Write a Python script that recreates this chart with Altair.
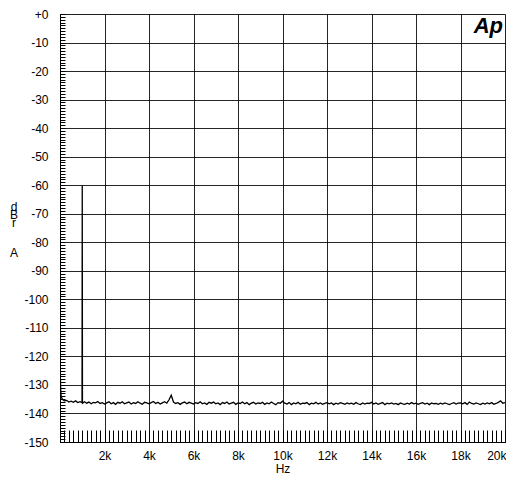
import altair as alt
import pandas as pd

# ---- data ----
freq_hz = (
    [20, 30, 50, 80, 120, 200, 300, 400, 500, 600, 700, 800, 900, 990, 1000, 1010]
    + [1100, 1200, 1300, 1400, 1500, 1600, 1700, 1800, 1900, 2000]
    + [2100, 2200, 2300, 2400, 2500, 2600, 2700, 2800, 2900, 3000]
    + [3100, 3200, 3300, 3400, 3500, 3600, 3700, 3800, 3900, 4000]
    + [4100, 4200, 4300, 4400, 4500, 4600, 4700, 4800, 4900, 5000]
    + [5100, 5200, 5300, 5400, 5500, 5600, 5700, 5800, 5900, 6000]
    + [6100, 6200, 6300, 6400, 6500, 6600, 6700, 6800, 6900, 7000]
    + [7100, 7200, 7300, 7400, 7500, 7600, 7700, 7800, 7900, 8000]
    + [8100, 8200, 8300, 8400, 8500, 8600, 8700, 8800, 8900, 9000]
    + [9100, 9200, 9300, 9400, 9500, 9600, 9700, 9800, 9900, 10000]
    + [10100, 10200, 10300, 10400, 10500, 10600, 10700, 10800, 10900, 11000]
    + [11100, 11200, 11300, 11400, 11500, 11600, 11700, 11800, 11900, 12000]
    + [12100, 12200, 12300, 12400, 12500, 12600, 12700, 12800, 12900, 13000]
    + [13100, 13200, 13300, 13400, 13500, 13600, 13700, 13800, 13900, 14000]
    + [14100, 14200, 14300, 14400, 14500, 14600, 14700, 14800, 14900, 15000]
    + [15100, 15200, 15300, 15400, 15500, 15600, 15700, 15800, 15900, 16000]
    + [16100, 16200, 16300, 16400, 16500, 16600, 16700, 16800, 16900, 17000]
    + [17100, 17200, 17300, 17400, 17500, 17600, 17700, 17800, 17900, 18000]
    + [18100, 18200, 18300, 18400, 18500, 18600, 18700, 18800, 18900, 19000]
    + [19100, 19200, 19300, 19400, 19500, 19600, 19700, 19800, 19900, 20000]
)
level_dbr = (
    [-128.0, -131.5, -133.8, -134.6, -135.1, -135.6, -135.4, -136.0, -135.7, -136.1,
     -135.6, -136.2, -135.9, -136.2, -60.2, -136.4]
    + [-135.9, -136.4, -136.0, -136.6, -136.1, -136.3, -135.8, -136.5, -136.2, -136.7]
    + [-136.3, -135.9, -136.6, -136.2, -136.8, -136.1, -136.4, -135.9, -136.6, -136.3]
    + [-136.0, -136.7, -136.2, -136.5, -135.9, -136.4, -136.8, -136.1, -136.3, -136.6]
    + [-136.2, -135.8, -136.5, -136.1, -136.7, -136.3, -135.9, -136.4, -135.2, -133.6]
    + [-136.0, -136.5, -136.2, -136.8, -136.3, -136.0, -136.6, -136.1, -136.4, -136.7]
    + [-136.2, -136.5, -135.9, -136.6, -136.3, -136.8, -136.1, -136.4, -136.0, -136.6]
    + [-136.3, -136.9, -136.2, -136.5, -136.0, -136.7, -136.4, -136.1, -136.8, -136.3]
    + [-136.5, -136.0, -136.6, -136.2, -136.9, -136.4, -136.1, -136.7, -136.3, -136.5]
    + [-136.1, -136.8, -136.3, -136.6, -136.0, -136.5, -136.9, -136.2, -136.4, -135.7]
    + [-136.4, -136.7, -136.2, -136.9, -136.3, -136.6, -136.1, -136.8, -136.4, -136.5]
    + [-136.2, -136.9, -136.4, -136.6, -136.1, -136.7, -136.3, -136.8, -136.5, -136.2]
    + [-136.6, -136.3, -136.9, -136.4, -136.7, -136.2, -136.5, -136.8, -136.3, -136.6]
    + [-136.4, -136.8, -136.2, -136.6, -136.9, -136.3, -136.7, -136.4, -136.5, -136.1]
    + [-136.7, -136.3, -136.8, -136.5, -136.2, -136.9, -136.4, -136.6, -136.3, -136.7]
    + [-136.5, -136.9, -136.3, -136.6, -136.8, -136.4, -136.7, -136.2, -136.6, -136.4]
    + [-136.8, -136.5, -136.2, -136.7, -136.4, -136.9, -136.3, -136.6, -136.5, -136.8]
    + [-136.4, -136.7, -136.3, -136.6, -136.9, -136.5, -136.2, -136.7, -136.4, -136.3]
    + [-136.6, -136.2, -136.8, -136.0, -136.5, -136.7, -136.3, -136.6, -136.9, -136.4]
    + [-136.7, -136.3, -136.6, -136.2, -136.8, -136.5, -136.1, -135.6, -136.4, -136.2]
)

x_major = [0, 2000, 4000, 6000, 8000, 10000, 12000, 14000, 16000, 18000, 20000]
y_major = [0, -10, -20, -30, -40, -50, -60, -70, -80, -90, -100, -110, -120, -130, -140, -150]
x_minor = list(range(0, 20001, 200))
y_minor = list(range(-150, 1, 1))

df = pd.DataFrame({"f": freq_hz, "db": level_dbr})
one = pd.DataFrame({"k": [0]})

FONT = "Liberation Sans"
W, H = 445, 428

xscale = alt.Scale(domain=[0, 20000], nice=False, zero=False)
yscale = alt.Scale(domain=[-150, 0], nice=False, zero=False)

main = alt.Chart(df).mark_line(color="black", strokeWidth=1.3, clip=True).encode(
    x=alt.X("f:Q", scale=xscale, axis=alt.Axis(
        values=x_major, grid=True, gridColor="black", gridWidth=1, gridOpacity=0.85,
        ticks=False, domain=True, domainColor="black",
        labelExpr="datum.value == 0 ? '' : (datum.value / 1000) + 'k'",
        labelFont=FONT, labelFontSize=12, labelColor="black", labelPadding=8,
        title="Hz", titleFont=FONT, titleFontSize=12, titleFontWeight="normal",
        titleColor="black", titlePadding=2, labelFlush=True, labelFlushOffset=1,
        orient="bottom")),
    y=alt.Y("db:Q", scale=yscale, axis=alt.Axis(
        values=y_major, grid=True, gridColor="black", gridWidth=1, gridOpacity=0.85,
        ticks=False, domain=True, domainColor="black",
        labelExpr="datum.value == 0 ? '+0' : '' + datum.value",
        labelFont=FONT, labelFontSize=12, labelColor="black", labelPadding=12,
        labelFlush=False, title=None, orient="left")),
)

minor = alt.Chart(df).mark_line(strokeOpacity=0).encode(
    x=alt.X("f:Q", scale=xscale, axis=alt.Axis(
        values=x_minor, grid=False, ticks=True, tickSize=12, tickColor="black",
        tickWidth=1, domain=False, labels=False, title=None, offset=-12,
        orient="bottom")),
    y=alt.Y("db:Q", scale=yscale, axis=alt.Axis(
        values=y_minor, grid=False, ticks=True, tickSize=5, tickColor="black",
        tickWidth=1, domain=False, labels=False, title=None, offset=-5,
        orient="left")),
)

ytitle1 = alt.Chart(one).mark_text(
    font=FONT, fontSize=12, color="black", align="center", baseline="alphabetic",
    lineHeight=8,
).encode(x=alt.value(-46), y=alt.value(197), text=alt.value(["d", "B", "r"]))

ytitle2 = alt.Chart(one).mark_text(
    font=FONT, fontSize=12, color="black", align="center", baseline="alphabetic",
).encode(x=alt.value(-46), y=alt.value(243), text=alt.value("A"))

logo = alt.Chart(one).mark_text(
    font=FONT, fontSize=22, fontWeight="bold", fontStyle="italic", color="black",
    align="right", baseline="alphabetic",
).encode(x=alt.value(443), y=alt.value(19), text=alt.value("Ap"))

chart = alt.layer(main, minor, ytitle1, ytitle2, logo).resolve_scale(
    x="shared", y="shared"
).resolve_axis(x="independent", y="independent").properties(
    width=W, height=H,
    autosize=alt.AutoSizeParams(type="none"),
    padding={"left": 52, "top": 6, "right": 1, "bottom": 32},
).configure_view(stroke="black", strokeWidth=1.5).configure(background="white")

chart.save("out.html", embed_options={"renderer": "svg", "actions": False})
